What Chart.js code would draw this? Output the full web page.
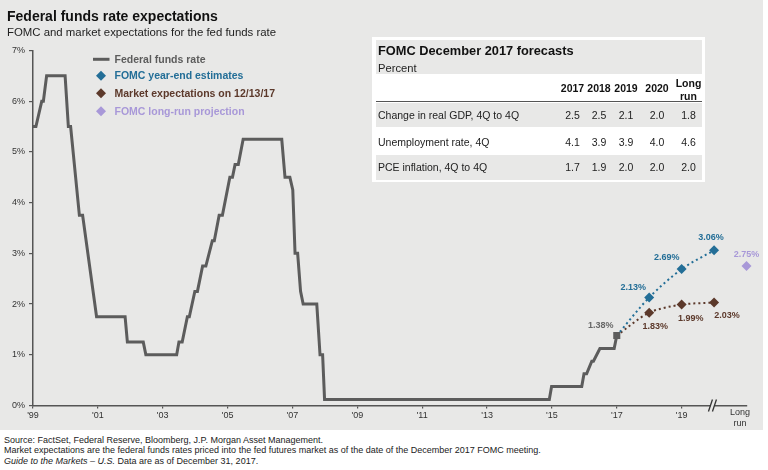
<!DOCTYPE html>
<html>
<head>
<meta charset="utf-8">
<script src="https://cdn.jsdelivr.net/npm/chart.js@4.4.0/dist/chart.umd.min.js"></script>
<style>
  body { margin: 0; width: 768px; height: 470px; background: #fff; position: relative; overflow: hidden;
         font-family: Arial, "Liberation Sans", sans-serif; color: #222; }
  #panel { position: absolute; left: 0; top: 0; width: 763px; height: 430px; background: #e8e8e7; }
  #chart { position: absolute; left: 0; top: 0; }
  .t { position: absolute; white-space: nowrap; }
  #title { left: 7px; top: 7px; font-size: 14px; line-height: 18px; font-weight: bold; color: #111; }
  #subtitle { left: 7px; top: 24px; font-size: 11.4px; line-height: 16px; color: #222; }
  #foot { left: 4px; top: 434.5px; font-size: 9px; line-height: 10.8px; color: #222; }
  #tbl { position: absolute; left: 372px; top: 37px; width: 333px; height: 145px; background: #fff; }
  .band { position: absolute; left: 4px; width: 326px; background: #e8e8e7; }
  .rule { position: absolute; left: 4px; width: 326px; height: 1.5px; background: #555; }
</style>
</head>
<body>
<div id="panel"></div>
<canvas id="chart" width="768" height="430"></canvas>
<div class="t" id="title">Federal funds rate expectations</div>
<div class="t" id="subtitle">FOMC and market expectations for the fed funds rate</div>
<div id="tbl"></div>
<div class="t" id="foot">Source: FactSet, Federal Reserve, Bloomberg, J.P. Morgan Asset Management.<br>Market expectations are the federal funds rates priced into the fed futures market as of the date of the December 2017 FOMC meeting.<br><i>Guide to the Markets – U.S.</i> Data are as of December 31, 2017.</div>

<script>
// fed funds rate path, year (decimal) and percent
const fedYears = [1999.00, 1999.09, 1999.27, 1999.32, 1999.42, 1999.99, 2000.09, 2000.16, 2000.43, 2000.53,
  2000.96, 2001.84, 2001.91, 2002.40, 2002.48, 2003.43, 2003.50, 2003.60, 2003.76, 2003.82,
  2003.99, 2004.07, 2004.23, 2004.33, 2004.53, 2004.59, 2004.74, 2004.84, 2005.07, 2005.15,
  2005.23, 2005.33, 2005.48, 2006.67, 2006.77, 2006.92, 2007.01, 2007.08, 2007.16, 2007.25,
  2007.33, 2007.75, 2007.85, 2007.93, 2007.99, 2014.92, 2014.99, 2015.92, 2015.99, 2016.07,
  2016.23, 2016.28, 2016.48, 2016.92, 2017.00];
const fedRates = [5.5, 5.5, 6.0, 6.0, 6.5, 6.5, 5.5, 5.5, 3.75, 3.75,
  1.75, 1.75, 1.25, 1.25, 1.0, 1.0, 1.25, 1.25, 1.75, 1.75,
  2.25, 2.25, 2.75, 2.75, 3.25, 3.25, 3.75, 3.75, 4.5, 4.5,
  4.75, 4.75, 5.25, 5.25, 4.5, 4.5, 4.25, 3.0, 3.0, 2.25,
  2.0, 2.0, 1.0, 1.0, 0.12, 0.12, 0.375, 0.375, 0.625, 0.625,
  0.875, 0.875, 1.125, 1.125, 1.38];

const forecastYears = [2017, 2018, 2019, 2020];
const fomcRates = [1.38, 2.13, 2.69, 3.06];
const marketRates = [1.38, 1.83, 1.99, 2.03];
const longRunYears = [2021];
const longRunRates = [2.75];

const tickYears = [1999, 2001, 2003, 2005, 2007, 2009, 2011, 2013, 2015, 2017, 2019];
const yTicks = [0, 1, 2, 3, 4, 5, 6, 7];

// FOMC table
const tableCols = ['2017', '2018', '2019', '2020', 'Long run'];
const tableRows = ['Change in real GDP, 4Q to 4Q', 'Unemployment rate, 4Q', 'PCE inflation, 4Q to 4Q'];
const gdpRow = [2.5, 2.5, 2.1, 2.0, 1.8];
const unempRow = [4.1, 3.9, 3.9, 4.0, 4.6];
const pceRow = [1.7, 1.9, 2.0, 2.0, 2.0];

const GRAY = '#5c5c5c', BLUE = '#236e97', BROWN = '#5c392b', LAV = '#a898d8';
const FONT = 'Arial, "Liberation Sans", sans-serif';

// ---- table ----
const tbl = document.getElementById('tbl');
let h = '';
h += '<div class="band" style="top:3px;height:34px"></div>';
h += '<div class="t" style="left:6px;top:6px;font-size:12.8px;line-height:16px;font-weight:bold;color:#111">FOMC December 2017 forecasts</div>';
h += '<div class="t" style="left:6px;top:24px;font-size:11.2px;line-height:14px">Percent</div>';
h += '<div class="rule" style="top:63.5px"></div>';
const colX = [200.5, 227, 254, 285, 316.5];
tableCols.forEach((c, i) => {
  const two = c.indexOf(' ') > 0;
  const txt = two ? c.replace(' ', '<br>') : c;
  const top = two ? 40 : 45;
  h += '<div class="t" style="left:' + (colX[i] - 25) + 'px;width:50px;text-align:center;top:' + top +
       'px;font-size:10.5px;line-height:12.5px;font-weight:bold;color:#111">' + txt + '</div>';
});
const rowVals = [gdpRow, unempRow, pceRow];
const rowY = [78, 104.7, 130.3];
const rowBand = [[66, 24], null, [118, 24.5]];
tableRows.forEach((r, i) => {
  if (rowBand[i]) h += '<div class="band" style="top:' + rowBand[i][0] + 'px;height:' + rowBand[i][1] + 'px"></div>';
  h += '<div class="t" style="left:6px;top:' + (rowY[i] - 7) + 'px;font-size:10.5px;line-height:14px">' + r + '</div>';
  rowVals[i].forEach((v, j) => {
    h += '<div class="t" style="left:' + (colX[j] - 20) + 'px;width:40px;text-align:center;top:' + (rowY[i] - 7) +
         'px;font-size:10.5px;line-height:14px">' + v.toFixed(1) + '</div>';
  });
});
tbl.innerHTML = h;

// ---- chart ----
const labelOffsets = {
  fomc: [[-16, -10], [-16, -10], [-15, -12], [-3, -13]],
  market: [null, [6, 14], [9, 14], [13, 13]],
  longrun: [[0, -12]]
};

const extras = {
  id: 'extras',
  afterDatasetsDraw(chart) {
    const { ctx, scales: { x, y } } = chart;
    ctx.save();
    // axis break
    const bx = x.getPixelForValue(2019.95), by = y.getPixelForValue(0);
    ctx.fillStyle = '#e8e8e7';
    ctx.fillRect(bx - 2, by - 2, 4, 4);
    ctx.strokeStyle = '#333';
    ctx.lineWidth = 1.3;
    [-2, 2].forEach(d => {
      ctx.beginPath();
      ctx.moveTo(bx + d - 2, by + 6);
      ctx.lineTo(bx + d + 2, by - 6);
      ctx.stroke();
    });
    // long run label
    ctx.fillStyle = '#333';
    ctx.font = '9px ' + FONT;
    ctx.textAlign = 'center';
    ctx.textBaseline = 'middle';
    const lx = x.getPixelForValue(2020.8);
    ctx.fillText('Long', lx, 413);
    ctx.fillText('run', lx, 423.5);

    // value labels
    ctx.font = 'bold 9px ' + FONT;
    const put = (xs, ys, offs, color) => {
      xs.forEach((xv, i) => {
        if (!offs[i]) return;
        ctx.fillStyle = color;
        ctx.fillText(ys[i].toFixed(2) + '%', x.getPixelForValue(xv) + offs[i][0], y.getPixelForValue(ys[i]) + offs[i][1]);
      });
    };
    ctx.fillStyle = '#666';
    ctx.fillText(fomcRates[0].toFixed(2) + '%', x.getPixelForValue(2017) + labelOffsets.fomc[0][0], y.getPixelForValue(fomcRates[0]) + labelOffsets.fomc[0][1]);
    put(forecastYears.slice(1), fomcRates.slice(1), labelOffsets.fomc.slice(1), BLUE);
    put(forecastYears, marketRates, labelOffsets.market, BROWN);
    put(longRunYears, longRunRates, labelOffsets.longrun, LAV);

    // legend
    const items = chart.data.datasets;
    const ly = [59.3, 75.7, 93.3, 111.3];
    ctx.textAlign = 'left';
    ctx.font = 'bold 10.5px ' + FONT;
    items.forEach((ds, i) => {
      const c = ds.borderColor === GRAY ? GRAY : ds.pointBackgroundColor;
      if (i === 0) {
        ctx.strokeStyle = GRAY;
        ctx.lineWidth = 3;
        ctx.beginPath();
        ctx.moveTo(93, ly[i]);
        ctx.lineTo(109.5, ly[i]);
        ctx.stroke();
      } else {
        ctx.fillStyle = c;
        ctx.beginPath();
        ctx.moveTo(101, ly[i] - 5);
        ctx.lineTo(106, ly[i]);
        ctx.lineTo(101, ly[i] + 5);
        ctx.lineTo(96, ly[i]);
        ctx.closePath();
        ctx.fill();
      }
      ctx.fillStyle = c;
      ctx.fillText(ds.label, 114.5, ly[i] + 0.5);
    });
    ctx.restore();
  }
};

const xy = (xs, ys) => xs.map((v, i) => ({ x: v, y: ys[i] }));

new Chart(document.getElementById('chart'), {
  type: 'line',
  data: {
    datasets: [{
      label: 'Federal funds rate',
      data: xy(fedYears, fedRates),
      borderColor: GRAY,
      backgroundColor: GRAY,
      borderWidth: 3,
      pointStyle: 'rect',
      pointBackgroundColor: GRAY,
      pointBorderWidth: 0,
      pointRadius: ctx => ctx.dataIndex === fedYears.length - 1 ? 5 : 0,
      tension: 0
    }, {
      label: 'FOMC year-end estimates',
      data: xy(forecastYears, fomcRates),
      borderColor: BLUE,
      pointBackgroundColor: BLUE,
      borderWidth: 2,
      borderDash: [2, 3],
      pointStyle: 'rectRot',
      pointBorderWidth: 0,
      pointRadius: ctx => ctx.dataIndex === 0 ? 0 : 5,
      tension: 0.3
    }, {
      label: 'Market expectations on 12/13/17',
      data: xy(forecastYears, marketRates),
      borderColor: BROWN,
      pointBackgroundColor: BROWN,
      borderWidth: 2,
      borderDash: [2, 3],
      pointStyle: 'rectRot',
      pointBorderWidth: 0,
      pointRadius: ctx => ctx.dataIndex === 0 ? 0 : 5,
      tension: 0.3
    }, {
      label: 'FOMC long-run projection',
      data: xy(longRunYears, longRunRates),
      borderColor: LAV,
      pointBackgroundColor: LAV,
      showLine: false,
      pointStyle: 'rectRot',
      pointBorderWidth: 0,
      pointRadius: 5
    }]
  },
  options: {
    responsive: false,
    animation: false,
    clip: false,
    layout: { padding: { top: 50.5, right: 21.5, left: 0, bottom: 0 } },
    plugins: { legend: { display: false }, tooltip: { enabled: false } },
    scales: {
      x: {
        type: 'linear',
        min: 1999,
        max: 2021,
        afterBuildTicks: s => { s.ticks = tickYears.map(v => ({ value: v })); },
        afterFit: s => { s.height = 24.5; },
        ticks: {
          autoSkip: false, maxRotation: 0, padding: 2,
          color: '#333', font: { size: 9, family: FONT },
          callback: v => "'" + String(v).slice(2)
        },
        grid: { drawOnChartArea: false, tickLength: 3, color: '#555', lineWidth: 1.2 },
        border: { color: '#555', width: 1.5 }
      },
      y: {
        min: 0,
        max: 7,
        afterBuildTicks: s => { s.ticks = yTicks.map(v => ({ value: v })); },
        afterFit: s => { s.width = 33; },
        ticks: {
          padding: 4, color: '#333', font: { size: 9, family: FONT },
          callback: v => v + '%'
        },
        grid: { drawOnChartArea: false, tickLength: 4, color: '#555', lineWidth: 1.2 },
        border: { color: '#555', width: 1.5 }
      }
    }
  },
  plugins: [extras]
});
</script>
</body>
</html>
